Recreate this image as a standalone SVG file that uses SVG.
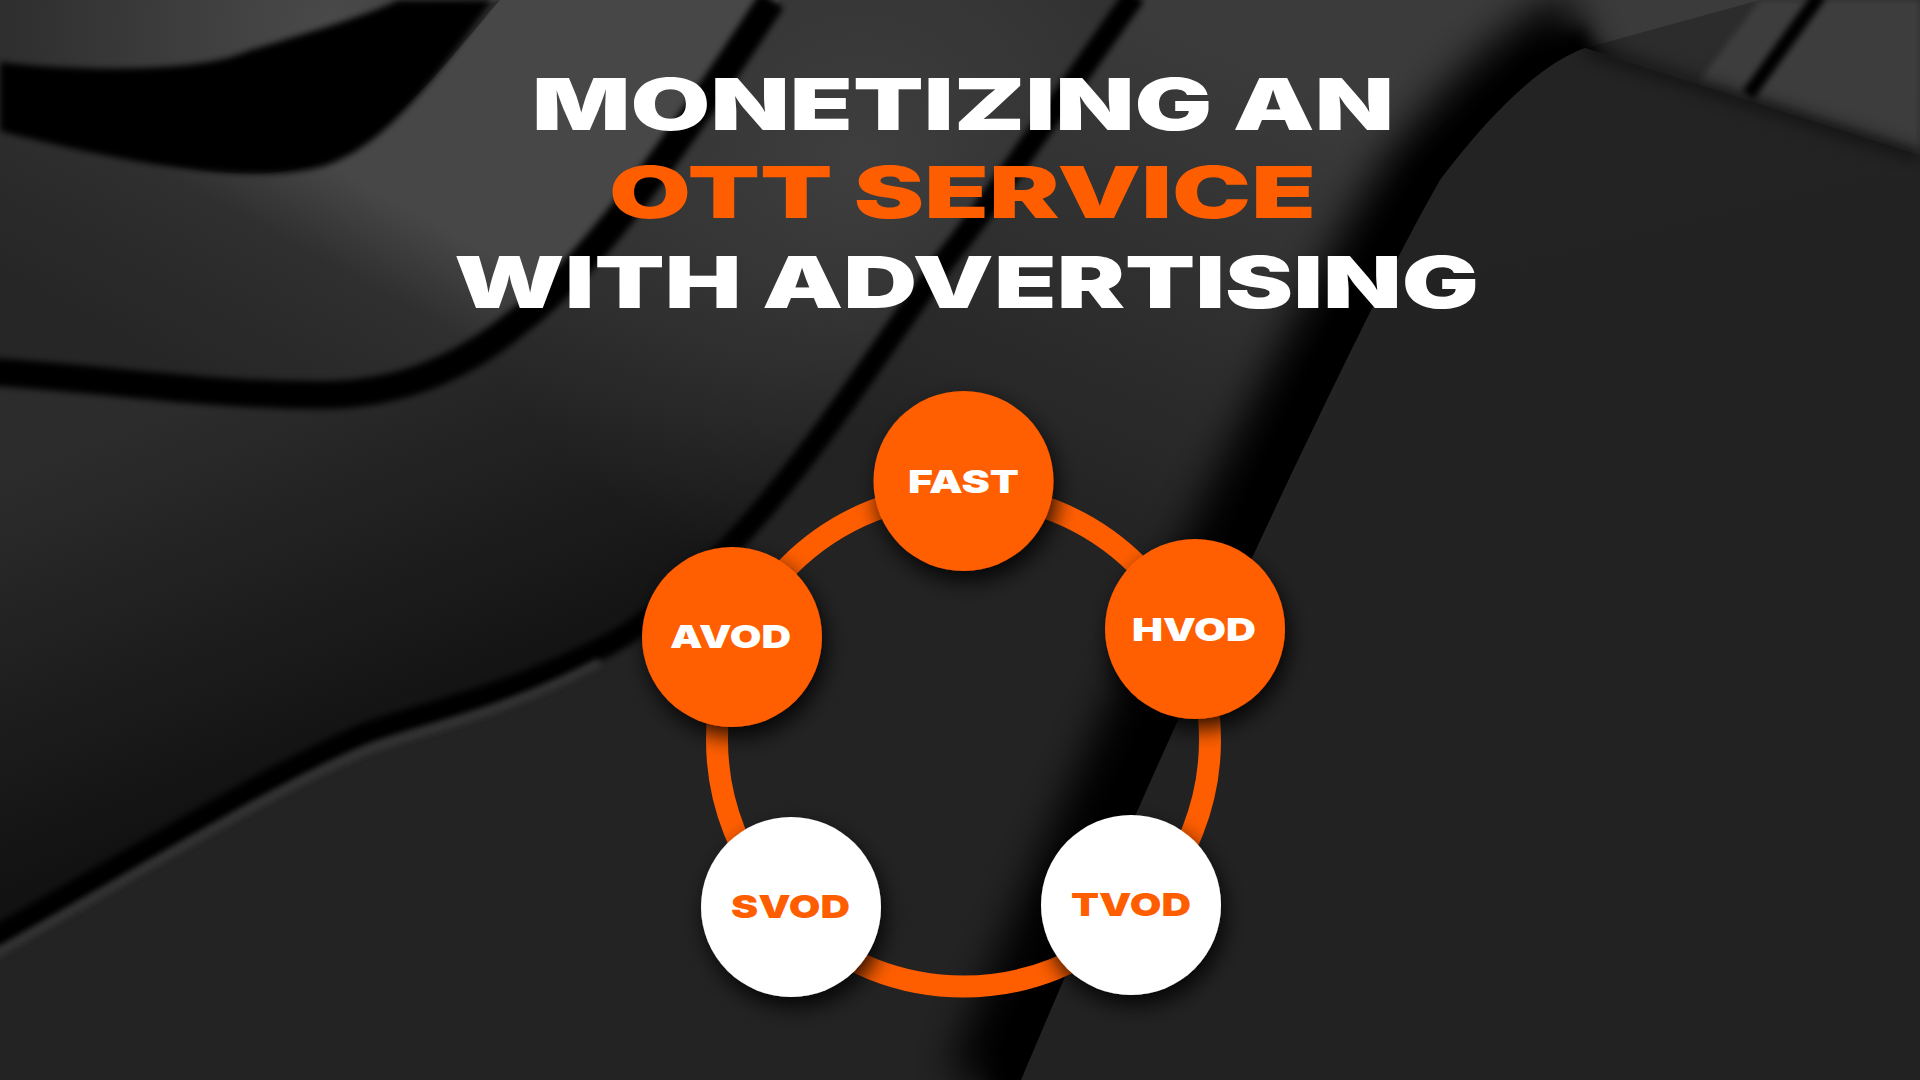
<svg xmlns="http://www.w3.org/2000/svg" width="1920" height="1080" viewBox="0 0 1920 1080">
<defs>
<style>
.title{font-family:Inter,"Lato","DejaVu Sans",sans-serif;font-weight:900;font-size:71px}
.white{fill:#ffffff}
.orange{fill:#ff5e00}
.lbl{font-family:Inter,"Lato","DejaVu Sans",sans-serif;font-weight:900;font-size:32px}
.node-o{fill:#ff5e00}
.node-w{fill:#ffffff}
.ring{fill:none;stroke:#ff5e00;stroke-width:22}
</style>
<filter id="shadow" x="-40%" y="-40%" width="180%" height="180%">
<feDropShadow dx="4" dy="10" stdDeviation="11" flood-color="#000" flood-opacity="0.85"/>
</filter>
<filter id="b3" x="-20%" y="-20%" width="140%" height="140%"><feGaussianBlur stdDeviation="3"/></filter>
<filter id="b8" x="-30%" y="-30%" width="160%" height="160%"><feGaussianBlur stdDeviation="8"/></filter>
<filter id="b20" x="-50%" y="-50%" width="200%" height="200%"><feGaussianBlur stdDeviation="20"/></filter>
<linearGradient id="bg" x1="0" y1="0" x2="0" y2="1">
<stop offset="0" stop-color="#2c2c2c"/><stop offset="1" stop-color="#232323"/>
</linearGradient>
<radialGradient id="tl" cx="330" cy="30" r="330" gradientUnits="userSpaceOnUse">
<stop offset="0" stop-color="#4a4a4a"/><stop offset="1" stop-color="#2e2e2e"/>
</radialGradient>
<linearGradient id="mid1" x1="320" y1="160" x2="200" y2="380" gradientUnits="userSpaceOnUse">
<stop offset="0" stop-color="#474747"/><stop offset="0.35" stop-color="#2f2f2f"/><stop offset="1" stop-color="#262626"/>
</linearGradient>
<linearGradient id="mid2" x1="200" y1="400" x2="340" y2="760" gradientUnits="userSpaceOnUse">
<stop offset="0" stop-color="#2c2c2c"/><stop offset="1" stop-color="#121212"/>
</linearGradient>
<radialGradient id="mid2hi" cx="860" cy="160" r="420" gradientUnits="userSpaceOnUse">
<stop offset="0" stop-color="#3e3e3e" stop-opacity="1"/><stop offset="1" stop-color="#3e3e3e" stop-opacity="0"/>
</radialGradient>
<linearGradient id="surf" x1="1250" y1="60" x2="1060" y2="520" gradientUnits="userSpaceOnUse">
<stop offset="0" stop-color="#3b3b3b"/><stop offset="1" stop-color="#232323"/>
</linearGradient>
<linearGradient id="rs" x1="1500" y1="100" x2="1700" y2="900" gradientUnits="userSpaceOnUse">
<stop offset="0" stop-color="#232323"/><stop offset="1" stop-color="#222222"/>
</linearGradient>
</defs>

<g id="background">
<rect width="1920" height="1080" fill="url(#bg)"/>
<path d="M0,0 H500 L0,140 Z" fill="url(#tl)"/>
<path d="M0,120 C150,170 250,185 310,165 C390,140 440,70 500,0 H780 C700,110 600,260 520,320 C450,380 380,395 320,395 C200,395 120,380 0,372 Z" fill="url(#mid1)"/>
<path id="mid2shape" d="M780,0 H1130 C1060,100 1000,190 960,241 C880,340 760,560 612,643 C500,700 430,710 367,733 C280,770 200,820 0,935 V372 C120,380 200,395 320,395 C380,395 450,380 520,320 C600,260 700,110 780,0 Z" fill="url(#mid2)"/>
<path d="M780,0 H1130 C1060,100 1000,190 960,241 C880,340 760,560 612,643 C500,700 430,710 367,733 C280,770 200,820 0,935 V372 C120,380 200,395 320,395 C380,395 450,380 520,320 C600,260 700,110 780,0 Z" fill="url(#mid2hi)"/>
<path d="M1130,0 H1760 L1585,48 C1550,60 1500,100 1440,180 C1360,320 1190,680 1021,1080 H0 V935 C200,820 280,770 367,733 C430,710 500,700 612,643 C760,560 880,340 960,241 C1000,190 1060,100 1130,0 Z" fill="url(#surf)"/>
<path d="M0,62 C80,72 200,72 245,52 C300,35 370,15 398,0 H492 C440,70 380,160 306,170 C250,180 150,170 0,131 Z" fill="#030303" filter="url(#b3)"/>
<path d="M-10,372 C120,380 200,395 320,395 C380,395 450,380 520,320 C600,260 700,110 772,0" fill="none" stroke="#050505" stroke-width="28" filter="url(#b3)"/>
<path d="M1135,-5 C1060,100 1000,190 960,241 C880,340 760,560 612,643 C500,700 430,710 367,733 C280,770 200,820 -10,940" fill="none" stroke="#040404" stroke-width="22" filter="url(#b3)"/>
<path d="M600,662 C500,715 430,727 367,750 C280,787 200,837 -10,957" fill="none" stroke="#363636" stroke-width="8" filter="url(#b3)"/>
<path d="M1585,40 C1550,55 1500,95 1430,180 C1340,320 1165,680 995,1090" fill="none" stroke="#000" stroke-width="100" filter="url(#b20)"/>
<path d="M1590,45 C1555,58 1505,98 1432,180 C1350,320 1175,680 1005,1090" fill="none" stroke="#000" stroke-width="40" filter="url(#b8)"/>
<path d="M1585,48 L1920,155 V1080 H1021 C1190,680 1360,320 1440,180 C1500,100 1550,60 1585,48 Z" fill="url(#rs)"/>
<path d="M1760,0 H1920 V150 L1700,80 Z" fill="#3c3c3c" filter="url(#b3)"/>
<path d="M1820,-5 L1748,95" stroke="#050505" stroke-width="14" filter="url(#b3)"/>
<path d="M1585,48 L1920,155" stroke="#000" stroke-width="10" opacity="0.6" filter="url(#b8)"/>
</g>

<g id="title">
<text class="title white" x="532" y="130" textLength="862" lengthAdjust="spacingAndGlyphs">MONETIZING AN</text>
<text class="title orange" x="609" y="218" textLength="707" lengthAdjust="spacingAndGlyphs">OTT SERVICE</text>
<text class="title white" x="454" y="308" textLength="1025" lengthAdjust="spacingAndGlyphs">WITH ADVERTISING</text>
</g>

<g id="connectors">
<circle class="ring" cx="963.5" cy="740" r="246.5"/>
</g>

<g id="node-fast">
<circle class="node-o" cx="963.5" cy="481" r="90" filter="url(#shadow)"/>
<text class="lbl white" x="908" y="493" textLength="111" lengthAdjust="spacingAndGlyphs">FAST</text>
</g>
<g id="node-hvod">
<circle class="node-o" cx="1195" cy="629" r="90" filter="url(#shadow)"/>
<text class="lbl white" x="1132" y="641" textLength="124" lengthAdjust="spacingAndGlyphs">HVOD</text>
</g>
<g id="node-avod">
<circle class="node-o" cx="732" cy="637" r="90" filter="url(#shadow)"/>
<text class="lbl white" x="670" y="648" textLength="121" lengthAdjust="spacingAndGlyphs">AVOD</text>
</g>
<g id="node-svod">
<circle class="node-w" cx="791" cy="907" r="90" filter="url(#shadow)"/>
<text class="lbl orange" x="731" y="918" textLength="119" lengthAdjust="spacingAndGlyphs">SVOD</text>
</g>
<g id="node-tvod">
<circle class="node-w" cx="1131" cy="905" r="90" filter="url(#shadow)"/>
<text class="lbl orange" x="1071" y="916" textLength="120" lengthAdjust="spacingAndGlyphs">TVOD</text>
</g>
</svg>
